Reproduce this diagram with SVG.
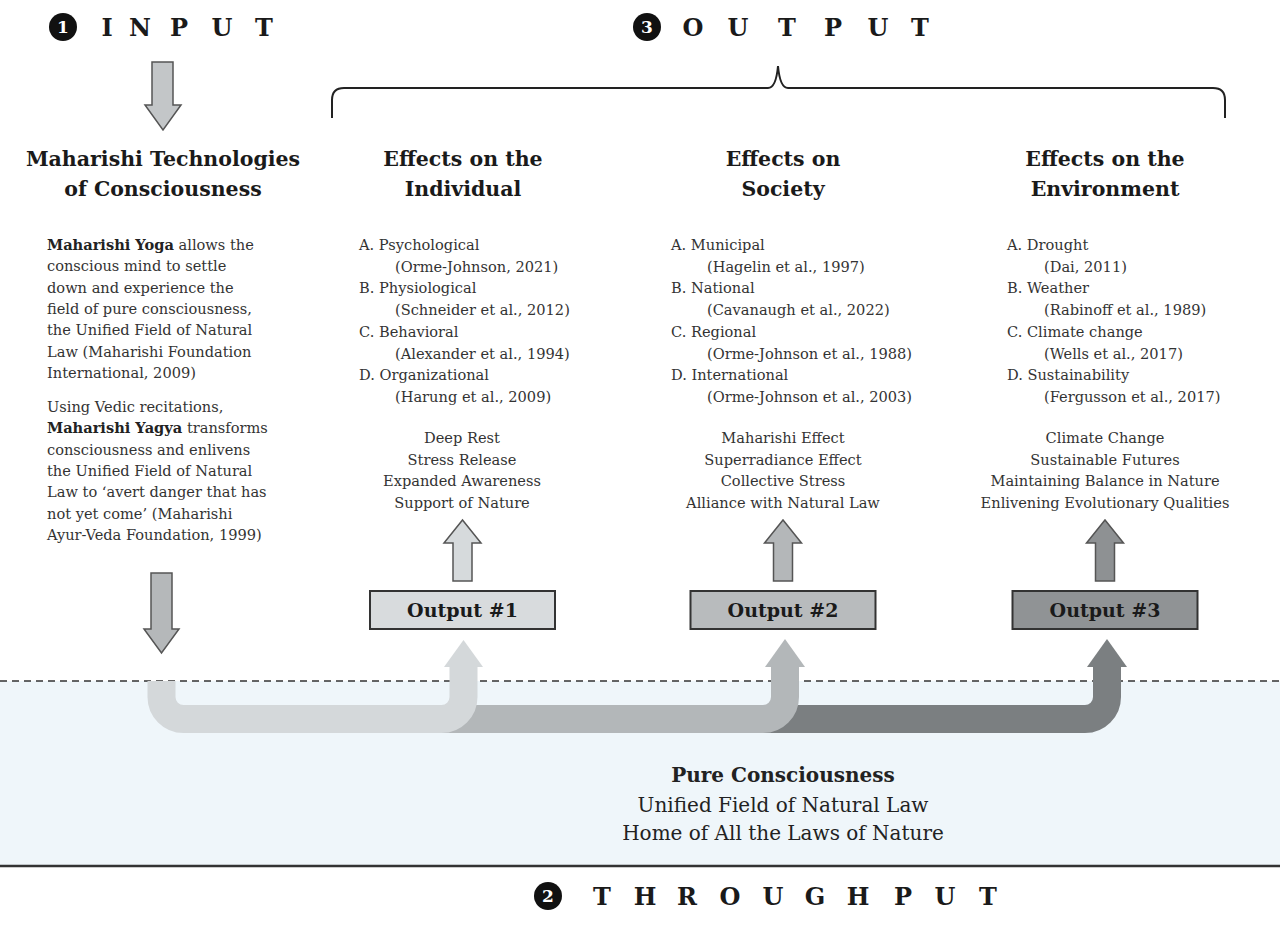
<svg xmlns="http://www.w3.org/2000/svg" width="1280" height="925" viewBox="0 0 1280 925">
<style>
text{font-family:"DejaVu Serif","Liberation Serif",serif;fill:#222}
.title{font-size:24px;font-weight:bold;fill:#1a1a1a;text-anchor:middle}
.num{font-size:17px;font-weight:bold;fill:#fff;text-anchor:middle}
.h{font-size:20.5px;font-weight:bold;text-anchor:middle;fill:#1a1a1a}
.b{font-size:14.6px;fill:#333}
.bb{font-weight:bold;fill:#222}
.c{text-anchor:middle}
.box{stroke:#333;stroke-width:2}
.btxt{font-size:19px;font-weight:bold;text-anchor:middle;fill:#1a1a1a}
.arr{stroke:#555;stroke-width:1.5;stroke-linejoin:miter}
.band{font-size:20px;text-anchor:middle;fill:#222}
.u{fill:none;stroke-width:28}
</style>
<rect width="1280" height="925" fill="#fff"/>

<!-- band -->
<g id="throughput-band">
<rect x="0" y="681" width="1280" height="185" fill="#eff6fa"/>
<line x1="0" y1="681" x2="1280" y2="681" stroke="#333" stroke-width="1.5" stroke-dasharray="7 5"/>
<line x1="0" y1="866" x2="1280" y2="866" stroke="#333" stroke-width="2.5"/>
</g>

<g id="input-title">
<circle cx="63" cy="27" r="14" fill="#111"/>
<text class="num" x="63" y="33">1</text>
<text class="title" x="107 140 179 222 264" y="36">INPUT</text>
</g>

<g id="output-title">
<circle cx="647" cy="27" r="14" fill="#111"/>
<text class="num" x="647" y="33">3</text>
<text class="title" x="693 738 787 833 878 920" y="36">OUTPUT</text>
</g>

<g id="throughput-title">
<circle cx="548" cy="896" r="14" fill="#111"/>
<text class="num" x="548" y="902">2</text>
<text class="title" x="602 645 687 730 773 815 858 903 945 988" y="905">THROUGHPUT</text>
</g>

<g id="output-brace">
<path d="M332,118 L332,100 Q332,88 344,88 L768,88 Q776,88 778,66 Q780,88 788,88 L1213,88 Q1225,88 1225,100 L1225,118" fill="none" stroke="#222" stroke-width="2"/>
</g>

<g id="technologies">
<text class="h" x="163" y="166">Maharishi Technologies</text>
<text class="h" x="163" y="196">of Consciousness</text>
<text class="b" x="47" y="250"><tspan class="bb">Maharishi Yoga</tspan> allows the</text>
<text class="b" x="47" y="271.3">conscious mind to settle</text>
<text class="b" x="47" y="292.6">down and experience the</text>
<text class="b" x="47" y="314">field of pure consciousness,</text>
<text class="b" x="47" y="335.3">the Unified Field of Natural</text>
<text class="b" x="47" y="356.6">Law (Maharishi Foundation</text>
<text class="b" x="47" y="378">International, 2009)</text>
<text class="b" x="47" y="412">Using Vedic recitations,</text>
<text class="b" x="47" y="433.3"><tspan class="bb">Maharishi Yagya</tspan> transforms</text>
<text class="b" x="47" y="454.6">consciousness and enlivens</text>
<text class="b" x="47" y="476">the Unified Field of Natural</text>
<text class="b" x="47" y="497.3">Law to ‘avert danger that has</text>
<text class="b" x="47" y="518.6">not yet come’ (Maharishi</text>
<text class="b" x="47" y="540">Ayur-Veda Foundation, 1999)</text>
</g>

<g id="individual">
<text class="h" x="463" y="166">Effects on the</text>
<text class="h" x="463" y="196">Individual</text>
<text class="b" x="359" y="250">A. Psychological</text>
<text class="b" x="395" y="271.7">(Orme-Johnson, 2021)</text>
<text class="b" x="359" y="293.4">B. Physiological</text>
<text class="b" x="395" y="315.1">(Schneider et al., 2012)</text>
<text class="b" x="359" y="336.8">C. Behavioral</text>
<text class="b" x="395" y="358.5">(Alexander et al., 1994)</text>
<text class="b" x="359" y="380.2">D. Organizational</text>
<text class="b" x="395" y="402">(Harung et al., 2009)</text>
<text class="b c" x="462" y="443">Deep Rest</text>
<text class="b c" x="462" y="464.7">Stress Release</text>
<text class="b c" x="462" y="486.4">Expanded Awareness</text>
<text class="b c" x="462" y="508">Support of Nature</text>
</g>

<g id="society">
<text class="h" x="783" y="166">Effects on</text>
<text class="h" x="783" y="196">Society</text>
<text class="b" x="671" y="250">A. Municipal</text>
<text class="b" x="707" y="271.7">(Hagelin et al., 1997)</text>
<text class="b" x="671" y="293.4">B. National</text>
<text class="b" x="707" y="315.1">(Cavanaugh et al., 2022)</text>
<text class="b" x="671" y="336.8">C. Regional</text>
<text class="b" x="707" y="358.5">(Orme-Johnson et al., 1988)</text>
<text class="b" x="671" y="380.2">D. International</text>
<text class="b" x="707" y="402">(Orme-Johnson et al., 2003)</text>
<text class="b c" x="783" y="443">Maharishi Effect</text>
<text class="b c" x="783" y="464.7">Superradiance Effect</text>
<text class="b c" x="783" y="486.4">Collective Stress</text>
<text class="b c" x="783" y="508">Alliance with Natural Law</text>
</g>

<g id="environment">
<text class="h" x="1105" y="166">Effects on the</text>
<text class="h" x="1105" y="196">Environment</text>
<text class="b" x="1007" y="250">A. Drought</text>
<text class="b" x="1044" y="271.7">(Dai, 2011)</text>
<text class="b" x="1007" y="293.4">B. Weather</text>
<text class="b" x="1044" y="315.1">(Rabinoff et al., 1989)</text>
<text class="b" x="1007" y="336.8">C. Climate change</text>
<text class="b" x="1044" y="358.5">(Wells et al., 2017)</text>
<text class="b" x="1007" y="380.2">D. Sustainability</text>
<text class="b" x="1044" y="402">(Fergusson et al., 2017)</text>
<text class="b c" x="1105" y="443">Climate Change</text>
<text class="b c" x="1105" y="464.7">Sustainable Futures</text>
<text class="b c" x="1105" y="486.4">Maintaining Balance in Nature</text>
<text class="b c" x="1105" y="508">Enlivening Evolutionary Qualities</text>
</g>

<g id="output1">
<rect class="box" x="370" y="591" width="185" height="38" fill="#d8dbdd"/>
<text class="btxt" x="462.5" y="617">Output #1</text>
</g>
<g id="output2">
<rect class="box" x="690.5" y="591" width="185" height="38" fill="#b8bbbd"/>
<text class="btxt" x="783" y="617">Output #2</text>
</g>
<g id="output3">
<rect class="box" x="1012.5" y="591" width="185" height="38" fill="#909395"/>
<text class="btxt" x="1105" y="617">Output #3</text>
</g>

<g id="pure-consciousness">
<text class="band" x="783" y="782" font-weight="bold">Pure Consciousness</text>
<text class="band" x="783" y="812">Unified Field of Natural Law</text>
<text class="band" x="783" y="840">Home of All the Laws of Nature</text>
</g>

<g id="connectors">
<polygon class="arr" points="152,62 173,62 173,105 181,105 163,130 145,105 152,105" fill="#c3c6c8"/>
<polygon class="arr" points="151,573 172,573 172,629 179,629 161.5,653 144,629 151,629" fill="#b5b8ba"/>
<polygon class="arr" points="453,581 453,543 444,543 462.5,520 481,543 472,543 472,581" fill="#d6dadc"/>
<polygon class="arr" points="773.5,581 773.5,543 764.5,543 783,520 801.5,543 792.5,543 792.5,581" fill="#b4b7b9"/>
<polygon class="arr" points="1095.5,581 1095.5,543 1086.5,543 1105,520 1123.5,543 1114.5,543 1114.5,581" fill="#8e9193"/>
<path class="u" d="M760,719 H1085 A22 22 0 0 0 1107,697 V666" stroke="#7b7f81"/>
<polygon points="1087,667 1127,667 1107,639" fill="#7b7f81"/>
<path class="u" d="M430,719 H763 A22 22 0 0 0 785,697 V666" stroke="#b3b7b9"/>
<polygon points="765,667 805,667 785,639" fill="#b3b7b9"/>
<path class="u" d="M161.5,681 V697 A22 22 0 0 0 183.5,719 H441.5 A22 22 0 0 0 463.5,697 V666" stroke="#d4d8da"/>
<polygon points="444,667 483,667 463.5,640" fill="#d4d8da"/>
</g>
</svg>
